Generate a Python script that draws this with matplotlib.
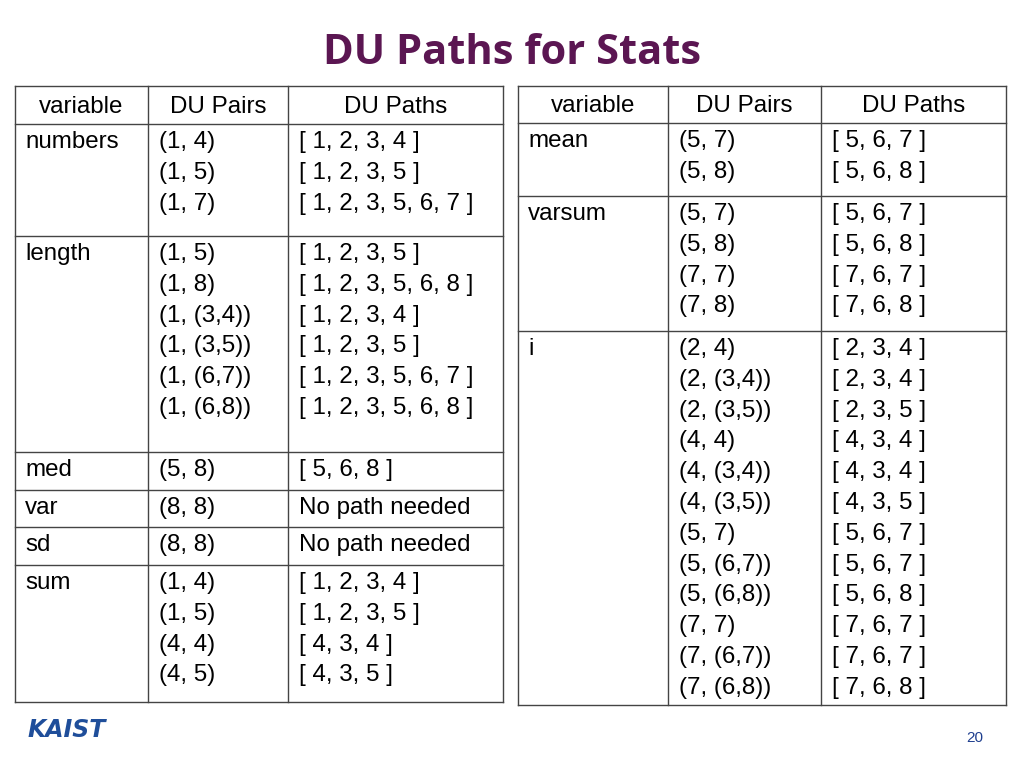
import matplotlib
matplotlib.use("Agg")
import matplotlib.pyplot as plt

title = "DU Paths for Stats"
headers = ["variable", "DU Pairs", "DU Paths"]
left_vars = ["numbers", "length", "med", "var", "sd", "sum"]
left_pairs = [["(1, 4)", "(1, 5)", "(1, 7)"],
              ["(1, 5)", "(1, 8)", "(1, (3,4))", "(1, (3,5))", "(1, (6,7))", "(1, (6,8))"],
              ["(5, 8)"], ["(8, 8)"], ["(8, 8)"],
              ["(1, 4)", "(1, 5)", "(4, 4)", "(4, 5)"]]
left_paths = [["[ 1, 2, 3, 4 ]", "[ 1, 2, 3, 5 ]", "[ 1, 2, 3, 5, 6, 7 ]"],
              ["[ 1, 2, 3, 5 ]", "[ 1, 2, 3, 5, 6, 8 ]", "[ 1, 2, 3, 4 ]", "[ 1, 2, 3, 5 ]",
               "[ 1, 2, 3, 5, 6, 7 ]", "[ 1, 2, 3, 5, 6, 8 ]"],
              ["[ 5, 6, 8 ]"], ["No path needed"], ["No path needed"],
              ["[ 1, 2, 3, 4 ]", "[ 1, 2, 3, 5 ]", "[ 4, 3, 4 ]", "[ 4, 3, 5 ]"]]
right_vars = ["mean", "varsum", "i"]
right_pairs = [["(5, 7)", "(5, 8)"],
               ["(5, 7)", "(5, 8)", "(7, 7)", "(7, 8)"],
               ["(2, 4)", "(2, (3,4))", "(2, (3,5))", "(4, 4)", "(4, (3,4))", "(4, (3,5))",
                "(5, 7)", "(5, (6,7))", "(5, (6,8))", "(7, 7)", "(7, (6,7))", "(7, (6,8))"]]
right_paths = [["[ 5, 6, 7 ]", "[ 5, 6, 8 ]"],
               ["[ 5, 6, 7 ]", "[ 5, 6, 8 ]", "[ 7, 6, 7 ]", "[ 7, 6, 8 ]"],
               ["[ 2, 3, 4 ]", "[ 2, 3, 4 ]", "[ 2, 3, 5 ]", "[ 4, 3, 4 ]", "[ 4, 3, 4 ]",
                "[ 4, 3, 5 ]", "[ 5, 6, 7 ]", "[ 5, 6, 7 ]", "[ 5, 6, 8 ]", "[ 7, 6, 7 ]",
                "[ 7, 6, 7 ]", "[ 7, 6, 8 ]"]]

fig = plt.figure(figsize=(10.24, 7.68), dpi=100)
ax = fig.add_axes([0, 0, 1, 1])
ax.set_xlim(0, 1024); ax.set_ylim(768, 0); ax.axis("off")
FS = 17.4
LH = 30.8
FONT = "Liberation Sans"

ax.text(512, 53, title, ha="center", va="center", fontsize=30, fontweight="bold",
        color="#5b1652", family="Open Sans")

def table(xs, hdr_top, hdr_bot, row_bounds, vars_, pairs, paths):
    top, bot = hdr_top, row_bounds[-1]
    for x in xs:
        ax.plot([x, x], [top, bot], color="#444", lw=1.0)
    for y in [top, hdr_bot] + row_bounds:
        ax.plot([xs[0], xs[-1]], [y, y], color="#444", lw=1.0)
    for i, h in enumerate(headers):
        ax.text((xs[i] + xs[i+1]) / 2, (top + hdr_bot) / 2 + 2, h, ha="center", va="center",
                fontsize=FS, family=FONT)
    prev = hdr_bot
    for r, (v, p, q) in enumerate(zip(vars_, pairs, paths)):
        y0 = prev + 18
        ax.text(xs[0] + 10, y0, v, va="center", fontsize=FS, family=FONT)
        for k, s in enumerate(p):
            ax.text(xs[1] + 11, y0 + k * LH, s, va="center", fontsize=FS, family=FONT)
        for k, s in enumerate(q):
            ax.text(xs[2] + 11, y0 + k * LH, s, va="center", fontsize=FS, family=FONT)
        prev = row_bounds[r]

table([15, 148, 288, 503], 86, 124, [236, 452, 490, 527, 565, 702],
      left_vars, left_pairs, left_paths)
table([518, 668, 821, 1006], 86, 123, [196, 331, 705],
      right_vars, right_pairs, right_paths)

ax.text(975, 738, "20", ha="center", va="center", fontsize=11, color="#1f3f8f", family=FONT)
ax.text(67, 730, "KAIST", ha="center", va="center", fontsize=17, fontweight="bold",
        style="italic", color="#1f4e9a", family="DejaVu Sans")
fig.savefig("out.png", dpi=100)
